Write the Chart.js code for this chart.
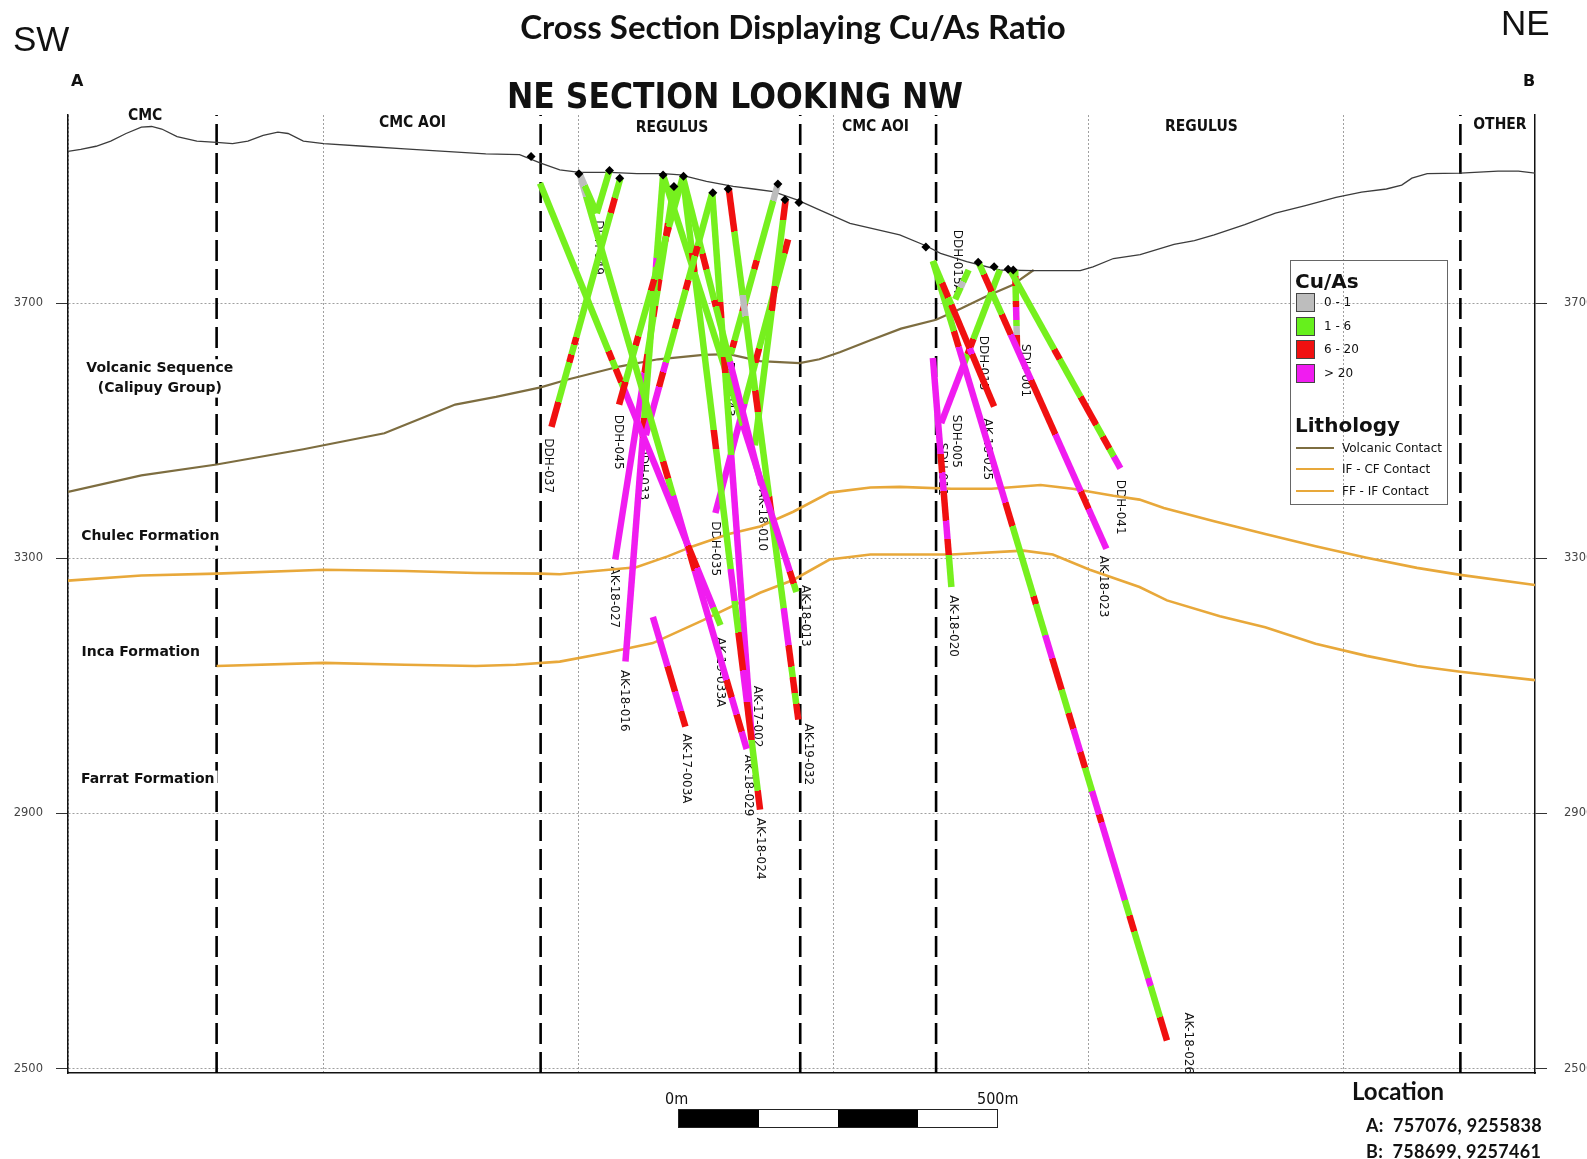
<!DOCTYPE html>
<html>
<head>
<meta charset="utf-8">
<script src="https://cdn.jsdelivr.net/npm/chart.js@4.4.1/dist/chart.umd.min.js"></script>
<style>
  body { margin: 0; width: 1587px; height: 1159px; position: relative; overflow: hidden; background: #fff; font-family: "DejaVu Sans", sans-serif; color: #111; }
  #section { position: absolute; left: 0; top: 0; }
  .txt { position: absolute; white-space: nowrap; line-height: 1; transform: translateY(-50%); }
  .mid { transform: translate(-50%, -50%); }
  #legend { position: absolute; left: 1290px; top: 260px; width: 156px; height: 243px; border: 1.5px solid #666; }
  .sw { position: absolute; left: 5px; width: 17px; height: 17px; border: 1px solid #444; }
  .lg { position: absolute; left: 5px; width: 38px; height: 0; border-top: 2.5px solid; }
  .lt { position: absolute; left: 33px; font-size: 12px; transform: translateY(-50%); white-space: nowrap; }
  #bar { position: absolute; left: 678px; top: 1109px; width: 320px; height: 19px; border: 1px solid #222; display: flex; box-sizing: border-box; }
  #bar div { flex: 1; }
</style>
</head>
<body>
<canvas id="section" width="1587" height="1159"></canvas>

<div class="txt" style="left:13px;top:39px;font:35px 'Liberation Sans',sans-serif;">SW</div>
<div class="txt" style="left:1501px;top:23px;font:35px 'Liberation Sans',sans-serif;">NE</div>
<div class="txt mid" style="left:793px;top:26px;font:700 33px Lato,sans-serif;">Cross Section Displaying Cu/As Ratio</div>
<div class="txt mid" style="left:735px;top:96px;font:700 35px 'DejaVu Sans Condensed','DejaVu Sans',sans-serif;">NE SECTION LOOKING NW</div>
<div class="txt" style="left:71px;top:80px;font:700 16px 'DejaVu Sans',sans-serif;">A</div>
<div class="txt" style="left:1523px;top:80px;font:700 16px 'DejaVu Sans',sans-serif;">B</div>

<div id="legend">
  <div class="lt" style="left:4px;top:20px;font:700 20px 'DejaVu Sans',sans-serif;">Cu/As</div>
  <div class="sw" style="top:32px;background:#bdbdbd"></div><div class="lt" style="top:41px">0 - 1</div>
  <div class="sw" style="top:56px;background:#66f01c"></div><div class="lt" style="top:65px">1 - 6</div>
  <div class="sw" style="top:79px;background:#f01010"></div><div class="lt" style="top:88px">6 - 20</div>
  <div class="sw" style="top:103px;background:#f01cf0"></div><div class="lt" style="top:112px">&gt; 20</div>
  <div class="lt" style="left:4px;top:164px;font:700 20px 'DejaVu Sans',sans-serif;">Lithology</div>
  <div class="lg" style="top:186px;border-color:#7d6d40"></div><div class="lt" style="left:51px;top:187px">Volcanic Contact</div>
  <div class="lg" style="top:207px;border-color:#e8a83a"></div><div class="lt" style="left:51px;top:208px">IF - CF Contact</div>
  <div class="lg" style="top:229px;border-color:#e8a83a"></div><div class="lt" style="left:51px;top:230px">FF - IF Contact</div>
</div>

<div class="txt" style="left:665px;top:1098px;font:16px 'DejaVu Sans Condensed','DejaVu Sans',sans-serif;">0m</div>
<div class="txt" style="left:977px;top:1098px;font:16px 'DejaVu Sans Condensed','DejaVu Sans',sans-serif;">500m</div>
<div id="bar"><div style="background:#000"></div><div></div><div style="background:#000"></div><div></div></div>

<div class="txt" style="left:1352px;top:1090px;font:700 24px Lato,sans-serif;">Location</div>
<div class="txt" style="left:1366px;top:1125px;font:700 18px Lato,sans-serif;letter-spacing:0.3px;">A:&nbsp;&nbsp;757076, 9255838</div>
<div class="txt" style="left:1366px;top:1151px;font:700 18px Lato,sans-serif;letter-spacing:0.3px;">B:&nbsp;&nbsp;758699, 9257461</div>

<script>
// distance along section A-B (m) and elevation (m)
const elevTicks = [2500, 2900, 3300, 3700];
const distGrid = [0, 400, 800, 1200, 1600, 2000];
const sectionBounds = [233, 741, 1148, 1361, 2183];

const sectionNames = [
  ['CMC', 121, 3993], ['CMC AOI', 540, 3982], ['REGULUS', 947, 3974],
  ['CMC AOI', 1266, 3976], ['REGULUS', 1777, 3977], ['OTHER', 2245, 3979]
];

const formations = [
  ['Volcanic Sequence', 144, 3598], ['(Calipuy Group)', 144, 3566],
  ['Chulec Formation', 129, 3334], ['Inca Formation', 114, 3153], ['Farrat Formation', 125, 2953]
];

const topography = [
  [0, 3938], [20, 3941], [44, 3946], [67, 3954], [91, 3966], [115, 3976], [131, 3977], [147, 3973],
  [171, 3961], [202, 3954], [233, 3952], [258, 3950], [282, 3954], [306, 3963], [329, 3968], [345, 3966],
  [369, 3954], [401, 3950], [464, 3946], [528, 3942], [591, 3938], [655, 3934], [708, 3933], [740, 3920],
  [771, 3909], [802, 3905], [850, 3905], [892, 3903], [933, 3903], [960, 3901], [1001, 3891], [1043, 3883],
  [1075, 3879], [1106, 3875], [1143, 3862], [1179, 3846], [1226, 3825], [1304, 3807], [1345, 3790],
  [1368, 3778], [1409, 3765], [1461, 3752], [1513, 3751], [1587, 3751], [1607, 3757], [1639, 3770],
  [1681, 3776], [1734, 3792], [1766, 3798], [1797, 3807], [1845, 3823], [1893, 3841], [1940, 3853],
  [1988, 3866], [2028, 3874], [2067, 3879], [2091, 3885], [2107, 3896], [2131, 3903], [2183, 3904],
  [2242, 3907], [2274, 3907], [2300, 3904]
];

const volcanicContact = [
  [0, 3404], [115, 3430], [233, 3447], [369, 3471], [496, 3496], [560, 3522], [607, 3541], [671, 3553],
  [741, 3568], [782, 3580], [866, 3601], [925, 3612], [996, 3619], [1036, 3620], [1085, 3609], [1147, 3606],
  [1178, 3612], [1210, 3623], [1258, 3642], [1306, 3660], [1361, 3674], [1401, 3692], [1440, 3711],
  [1480, 3728], [1514, 3752]
];

const ifCfContact = [
  [0, 3265], [115, 3273], [233, 3276], [401, 3282], [528, 3280], [639, 3277], [741, 3276], [771, 3275],
  [813, 3279], [891, 3286], [940, 3303], [980, 3319], [1036, 3338], [1085, 3350], [1137, 3373], [1194, 3403],
  [1258, 3411], [1304, 3412], [1385, 3409], [1448, 3409], [1525, 3415], [1575, 3409], [1639, 3398],
  [1680, 3392], [1718, 3379], [1797, 3358], [1877, 3338], [1956, 3319], [2036, 3301], [2115, 3285],
  [2183, 3274], [2300, 3258]
];

const ffIfContact = [
  [233, 3131], [401, 3136], [528, 3133], [639, 3131], [702, 3133], [771, 3138], [845, 3152], [917, 3167],
  [996, 3203], [1085, 3246], [1137, 3266], [1194, 3298], [1258, 3306], [1304, 3306], [1385, 3306],
  [1498, 3312], [1544, 3306], [1602, 3282], [1680, 3255], [1723, 3234], [1806, 3209], [1877, 3192],
  [1956, 3166], [2036, 3147], [2115, 3131], [2183, 3122], [2300, 3109]
];

const collars = [
  [726, 3930], [801, 3903], [849, 3908], [865, 3896], [933, 3901], [950, 3883], [965, 3899], [1011, 3873],
  [1035, 3879], [1113, 3887], [1124, 3862], [1146, 3858], [1345, 3788], [1427, 3764], [1452, 3757],
  [1474, 3753], [1482, 3752]
];

// hole, collar, end of trace, Cu/As intervals (class + end as % of hole length)
// x = 0-1, g = 1-6, r = 6-20, m = >20
const holes = [
  ['DDH-037',    [866, 3896],  [758, 3506],  'g8 r14 g64 r67 g71 r74 g90 r100'],
  ['DDH-049',    [802, 3903],  [829, 3841],  'x30 g100'],
  ['DDH-049',    [849, 3908],  [829, 3841],  'g100'],
  ['DDH-045',    [964, 3898],  [864, 3541],  'g22 r26 g45 r50 g70 r74 g90 r100'],
  ['AK-19-033A', [740, 3888],  [1023, 3195], 'g38 r40 g42 r45 g46 m82 r87 m96 g100'],
  ['AK-18-029',  [802, 3903],  [1064, 3001], 'x4 g50 r53 g56 m66 r69 m88 r91 m94 r97 m100'],
  ['DDH-033',    [1010, 3873], [906, 3493],  'g22 r26 g36 r40 g52 r56 g70 m74 r80 m100'],
  ['AK-18-016',  [933, 3901],  [874, 3138],  'g17 m19 g50 r54 m100'],
  ['AK-18-027',  [950, 3884],  [858, 3298],  'g10 r15 g25 r28 g32 r35 g45 r50 m100'],
  ['AK-18-010',  [964, 3898],  [1087, 3415], 'g25 r30 g40 r42 g60 m100'],
  ['AK-18-024',  [964, 3898],  [1085, 2906], 'g12 r15 g40 r43 g62 m67 g72 r78 m83 r89 g97 r100'],
  ['AK-17-002',  [1010, 3873], [1072, 3017], 'g20 r23 g30 r33 g48 m100'],
  ['AK-18-013',  [933, 3901],  [1142, 3247], 'g60 m95 r98 g100'],
  ['AK-19-032',  [1036, 3879], [1145, 3047], 'r8 g20 x24 g38 r42 g58 r61 g79 m86 r90 g92 r95 g97 r100'],
  ['DDH-043',    [1113, 3887], [1039, 3620], 'x10 g45 r50 g70 r75 g92 r96 g100'],
  ['DDH-039',    [1125, 3861], [1077, 3477], 'r8 g35 r45 g100'],
  ['DDH-035',    [1129, 3800], [1015, 3371], 'r5 g40 r45 g60 m100'],
  ['AK-17-003A', [917, 3208],  [968, 3036],  'm45 r68 m86 r100'],
  ['DDH-015A',   [1412, 3752], [1391, 3706], 'g40 x60 g100'],
  ['DDH-015',    [1356, 3766], [1452, 3538], 'g15 r25 g30 r60 m64 r100'],
  ['AK-18-026',  [1356, 3766], [1723, 2544], 'g9 r11 m31 r34 g43 r44 g48 m51 r55 g58 r60 m63 r65 g68 m71 r72 m82 g84 r86 g92 m93 g97 r100'],
  ['DDH-041',    [1477, 3752], [1650, 3441], 'g40 r45 g64 r78 g84 r90 g94 m100'],
  ['AK-18-023',  [1428, 3763], [1628, 3315], 'g4 r10 g18 r25 m41 r60 m80 r86 m100'],
  ['SDH-001',    [1485, 3752], [1488, 3630], 'g8 r21 g40 r47 m64 g72 x83 r100'],
  ['SDH-005',    [1461, 3752], [1369, 3512], 'g45 r55 g62 m100'],
  ['AK-18-020',  [1356, 3614], [1385, 3255], 'm42 r50 m58 r71 m79 r86 g100']
];

const holeLabels = [
  ['DDH-037', 753, 3488], ['DDH-049', 831, 3830], ['DDH-045', 863, 3525], ['DDH-033', 902, 3477],
  ['DDH-043', 1037, 3608], ['DDH-035', 1014, 3358], ['AK-18-010', 1088, 3408], ['AK-18-027', 856, 3287],
  ['AK-18-016', 872, 3125], ['AK-17-003A', 969, 3025], ['AK-19-033A', 1023, 3176], ['AK-18-029', 1066, 2992],
  ['AK-17-002', 1080, 3100], ['AK-18-024', 1085, 2893], ['AK-18-013', 1156, 3258], ['AK-19-032', 1160, 3041],
  ['DDH-015A', 1394, 3815], ['SDH-001', 1501, 3636], ['DDH-015', 1434, 3649], ['AK-18-025', 1441, 3519],
  ['SDH-005', 1393, 3525], ['SDH-011', 1371, 3481], ['DDH-041', 1650, 3423], ['AK-18-023', 1623, 3304],
  ['AK-18-020', 1388, 3242], ['AK-18-026', 1756, 2588]
];

const CU_AS = { x: '#bdbdbd', g: '#76f01e', r: '#f01010', m: '#f01cf0' };
const ELEV_MIN = 2493, ELEV_MAX = 3995;

const pts = arr => arr.map(([x, y]) => ({ x, y }));
const parseAssays = s => s.split(' ').map(t => [parseFloat(t.slice(1)), t[0]]);

function assayStroke(collar, end, assays) {
  return ctx => {
    const { x, y } = ctx.chart.scales;
    if (!x || !y) return CU_AS.g;
    const p = [x.getPixelForValue(collar[0]), y.getPixelForValue(collar[1]),
               x.getPixelForValue(end[0]), y.getPixelForValue(end[1])];
    if (!p.every(Number.isFinite)) return CU_AS.g;
    const g = ctx.chart.ctx.createLinearGradient(...p);
    let from = 0;
    parseAssays(assays).forEach(([to, c]) => {
      g.addColorStop(from / 100, CU_AS[c]);
      g.addColorStop(to / 100, CU_AS[c]);
      from = to;
    });
    return g;
  };
}

const contact = (data, color, width, order) => ({
  data: pts(data), showLine: true, borderColor: color, borderWidth: width,
  pointRadius: 0, order
});

const datasets = [
  { data: pts(collars), pointStyle: 'rectRot', pointRadius: 4.5, backgroundColor: '#000', borderColor: '#000', borderWidth: 0, order: 0 },
  ...holes.map(([name, collar, end, assays]) => ({
    label: name, data: pts([collar, end]), showLine: true, borderWidth: 6.5,
    borderCapStyle: 'butt', borderColor: assayStroke(collar, end, assays), pointRadius: 0, order: 1
  })),
  contact(topography, '#3c3c3c', 1.3, 4),
  contact(volcanicContact, '#7d6d40', 2.2, 4),
  contact(ifCfContact, '#e8a83a', 2.6, 4),
  contact(ffIfContact, '#e8a83a', 2.6, 4),
  ...sectionBounds.map(b => ({
    data: pts([[b, ELEV_MIN], [b, ELEV_MAX]]), showLine: true, borderColor: '#000',
    borderWidth: 2.6, borderDash: [21, 8], pointRadius: 0, order: 6
  }))
];

const annotations = {
  id: 'annotations',
  beforeDatasetsDraw(chart) {
    const { ctx, scales: { x, y } } = chart;
    ctx.save();
    ctx.fillStyle = '#111';
    ctx.font = "12px 'DejaVu Sans', sans-serif";
    ctx.textAlign = 'left';
    ctx.textBaseline = 'middle';
    holeLabels.forEach(([name, d, z]) => {
      ctx.save();
      ctx.translate(x.getPixelForValue(d), y.getPixelForValue(z));
      ctx.rotate(Math.PI / 2);
      ctx.fillText(name, 0, 0);
      ctx.restore();
    });
    ctx.restore();
  },
  afterDatasetsDraw(chart) {
    const { ctx, scales: { x, y } } = chart;
    ctx.save();
    ctx.textAlign = 'center';
    ctx.textBaseline = 'middle';
    ctx.fillStyle = '#111';
    ctx.font = "bold 15.5px 'DejaVu Sans Condensed', 'DejaVu Sans', sans-serif";
    sectionNames.forEach(([t, d, z]) => ctx.fillText(t, x.getPixelForValue(d), y.getPixelForValue(z)));
    ctx.font = "bold 14px 'DejaVu Sans', sans-serif";
    formations.forEach(([t, d, z]) => {
      const px = x.getPixelForValue(d), py = y.getPixelForValue(z);
      const w = ctx.measureText(t).width;
      ctx.fillStyle = '#fff';
      ctx.fillRect(px - w / 2 - 3, py - 9, w + 6, 18);
      ctx.fillStyle = '#111';
      ctx.fillText(t, px, py);
    });
    ctx.restore();
  }
};

const elevAxis = (position, width, tickLength, padding, onArea) => ({
  type: 'linear', position, min: ELEV_MIN, max: ELEV_MAX,
  afterBuildTicks: s => { s.ticks = elevTicks.map(v => ({ value: v })); },
  afterFit: s => { s.width = width; },
  ticks: { color: '#444', padding, font: { family: 'DejaVu Sans', size: 11.5 }, callback: v => String(v) },
  grid: { drawOnChartArea: onArea, color: '#a0a0a0', lineWidth: 1, tickLength, tickColor: '#333', tickWidth: 1 },
  border: { color: '#111', width: 1.5, dash: [2, 2] }
});

new Chart(document.getElementById('section'), {
  type: 'scatter',
  data: { datasets },
  options: {
    responsive: false,
    animation: false,
    layout: { padding: { top: 115, bottom: 86, left: 0, right: 0 } },
    plugins: { legend: { display: false }, tooltip: { enabled: false } },
    scales: {
      x: {
        type: 'linear', position: 'bottom', min: 0, max: 2300,
        afterBuildTicks: s => { s.ticks = distGrid.map(v => ({ value: v })); },
        afterFit: s => { s.height = 0; },
        ticks: { display: false },
        grid: { color: '#a0a0a0', lineWidth: 1, drawTicks: false },
        border: { color: '#111', width: 1.5, dash: [2, 2] }
      },
      y: elevAxis('left', 68, 12, 13, true),
      y2: elevAxis('right', 52, 12, 17, false)
    }
  },
  plugins: [annotations]
});
</script>
</body>
</html>
